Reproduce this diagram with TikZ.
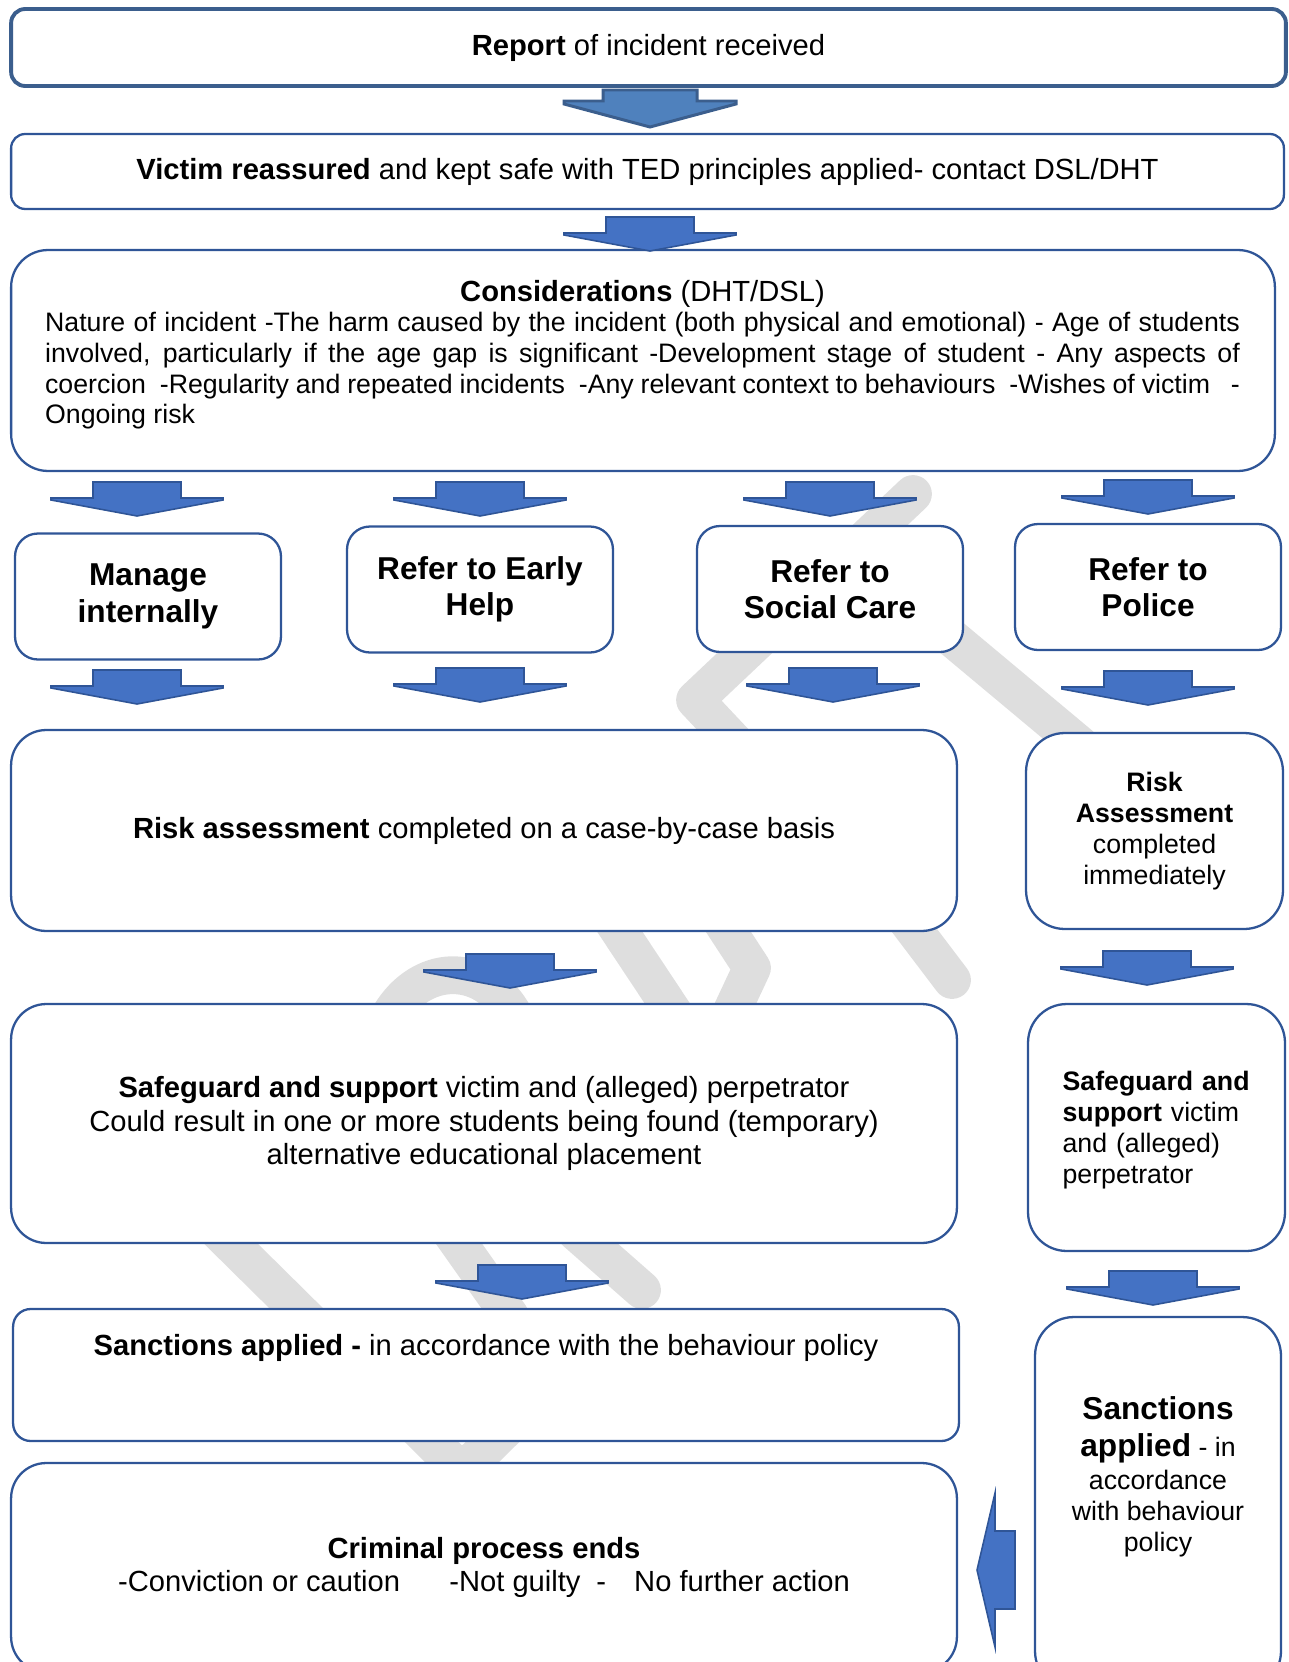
\documentclass[tikz,border=0pt]{standalone}
\usepackage{fontspec}
\setmainfont{Liberation Sans}
\definecolor{edge}{HTML}{2F5597}
\definecolor{topedge}{HTML}{3B5E8D}
\definecolor{blkfill}{HTML}{4472C4}
\definecolor{topfill}{HTML}{4F81BD}
\definecolor{wmark}{HTML}{DEDEDE}
\newcommand{\fa}{\fontsize{16.6}{19.2}\selectfont}
\newcommand{\fb}{\fontsize{15.2}{17.5}\selectfont}
\newcommand{\fc}{\fontsize{18}{20.8}\selectfont\bfseries}
\newcommand{\fullline}[1]{\makebox[\linewidth][s]{#1}\par}
\tikzset{
  stage/.style={draw=edge, line width=1.3pt, fill=white, inner sep=0pt,
                align=center, font=\fa},
  route/.style={stage, font=\fc, rounded corners=13pt,
                minimum width=5.32cm, minimum height=2.52cm},  % the four referral boxes
  side/.style={stage, font=\fb, rounded corners=22pt},         % police column
  blk/.style={draw=edge, fill=blkfill, line width=0.9pt},
  wm/.style={draw=wmark, line width=21.5pt, line cap=round, line join=round},
  pics/dnarrow/.style={code={
    \draw[blk] (-44,0) -- (44,0) -- (44,16) -- (86,16) -- (86,18) -- (0,34)
      -- (-86,18) -- (-86,16) -- (-44,16) -- cycle;}},
}
\begin{document}
\begin{tikzpicture}[x=0.02cm, y=-0.02cm]
  \useasboundingbox (0,0) rectangle (1288,1662);
  % watermark, only seen between the boxes
  \draw[wm] (913,494) -- (695,700) -- (775,785);
  \draw[wm] (940,628) -- (1080,745);
  \draw[wm] (390,1015) .. controls (420,965) and (480,960) .. (512,1012);
  \draw[wm] (612,920) -- (675,1015);
  \draw[wm] (722,922) -- (752,968) -- (730,1015);
  \draw[wm] (905,918) -- (952,980);
  \draw[wm] (215,1228) -- (462,1472) -- (540,1395);
  \draw[wm] (450,1231) -- (510,1316);
  \draw[wm] (576,1232) -- (642,1290);

  \node[stage, draw=topedge, line width=2.2pt, rounded corners=8pt,
        minimum width=25.5cm, minimum height=1.54cm] (report) at (648.5,47.5)
    {\textbf{Report} of incident received};
  \node[stage, rounded corners=8pt, minimum width=25.46cm, minimum height=1.5cm]
    (victim) at (647.5,171.5)
    {\textbf{Victim reassured} and kept safe with TED principles applied- contact DSL/DHT};
  \node[stage, rounded corners=21pt, minimum width=25.28cm, minimum height=4.42cm]
    (consid) at (643,360.5) {};
  \node[inner sep=0pt, anchor=base] (consid-t) at (642.5,301) {\parbox[t]{680pt}{%
    {\centering\fa\textbf{Considerations} (DHT/DSL)\par}
    \fb
    \fullline{Nature of incident -The harm caused by the incident (both physical and emotional) - Age of students}
    \fullline{involved, particularly if the age gap is significant -Development stage of student - Any aspects of}
    \fullline{coercion\ \ -Regularity and repeated incidents\ \ -Any relevant context to behaviours\ \ -Wishes of victim\ \ \ -}
    Ongoing risk}};

  \node[route] (manage) at (148,596.5) {Manage\\internally};
  \node[route] (early)  at (480,589.5) {Refer to Early\\Help};
  \node[route] (social) at (830,589)   {Refer to\\Social Care};
  \node[route] (police) at (1148,587)  {Refer to\\Police};

  \node[stage, rounded corners=20pt, minimum width=18.92cm, minimum height=4.02cm]
    (riskA) at (484,830.5)
    {\textbf{Risk assessment} completed on a case-by-case basis};
  \node[side, minimum width=5.14cm, minimum height=3.92cm] (riskB) at (1154.5,831)
    {\textbf{Risk}\\\textbf{Assessment}\\completed\\immediately};
  \node[stage, rounded corners=20pt, minimum width=18.92cm, minimum height=4.78cm]
    (safeA) at (484,1123.5)
    {\textbf{Safeguard and support} victim and (alleged) perpetrator\\
     Could result in one or more students being found (temporary)\\
     alternative educational placement};
  \node[side, minimum width=5.14cm, minimum height=4.94cm] (safeB) at (1156.5,1127.5) {};
  \node[font=\fb, align=left, text width=112pt, inner sep=0pt] (safeB-t) at (1161,1130)
    {\textbf{Safeguard and}\\\textbf{support} victim\\and (alleged)\\perpetrator};
  \node[stage, rounded corners=10pt, minimum width=18.92cm, minimum height=2.64cm]
    (sancA) at (486,1375) {};
  \node[font=\fa, inner sep=0pt, anchor=base] (sancA-t) at (486,1355)
    {\textbf{Sanctions applied -} in accordance with the behaviour policy};
  \node[stage, rounded corners=20pt, minimum width=18.92cm, minimum height=4.18cm]
    (crim) at (484,1567.5)
    {\textbf{Criminal process ends}\\
     -Conviction or caution\hspace{28pt}-Not guilty\hspace{9pt}-\hspace{16pt}No further action};
  \node[side, minimum width=4.92cm, minimum height=7.46cm] (sancB) at (1158,1503.5) {};
  \node[font=\fb, align=center, inner sep=0pt] (sancB-t) at (1158,1477)
    {{\fc Sanctions}\\[3pt]{\fc applied} - in\\[1.8pt]accordance\\with behaviour\\policy};

  % block arrows
  \draw[blk, draw=topedge, fill=topfill, line width=1.7pt]
    (603,90) -- (697,90) -- (697,101) -- (736,101) -- (736,104) -- (650,127)
    -- (564,104) -- (564,101) -- (603,101) -- cycle;
  \foreach \cx/\ty in {650/217, 137/482, 480/482, 830/482, 1148/480,
                       137/670, 480/668, 833/668, 1148/671,
                       510/954, 1147/951, 522/1265, 1153/1271}
    \pic at (\cx,\ty) {dnarrow};
  \draw[blk] (1015,1531) -- (995,1531) -- (995,1493) -- (977,1570)
    -- (995,1647) -- (995,1609) -- (1015,1609) -- cycle;
\end{tikzpicture}
\end{document}
